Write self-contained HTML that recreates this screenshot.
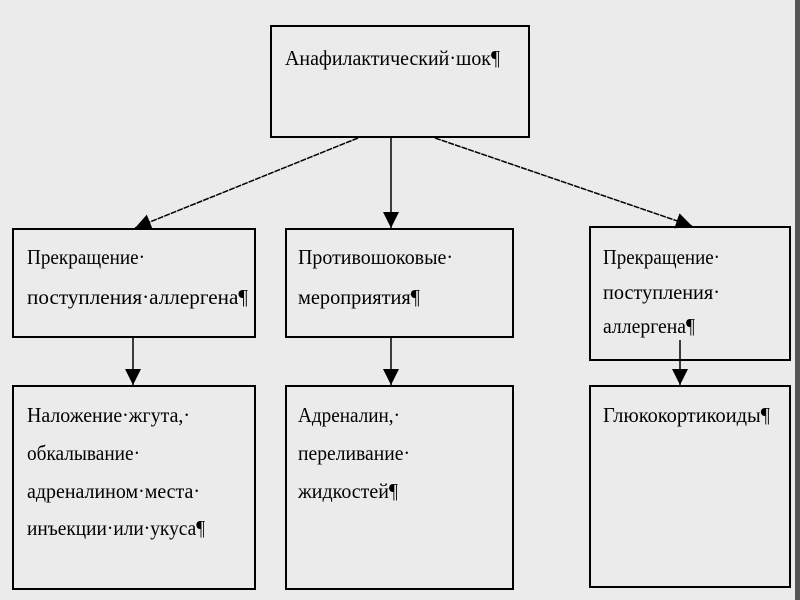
<!DOCTYPE html>
<html><head><meta charset="utf-8"><style>
html,body{margin:0;padding:0;background:#ebebeb;}
svg{display:block;}
text{font-family:"Liberation Serif","DejaVu Serif",serif;font-size:21px;fill:#000;}
</style></head><body>
<svg width="800" height="600" viewBox="0 0 800 600" xmlns="http://www.w3.org/2000/svg">
<rect width="800" height="600" fill="#ebebeb"/>
<rect x="795" y="0" width="5" height="600" fill="#555"/>
<defs>
<marker id="b" markerWidth="16" markerHeight="16" refX="16" refY="8" orient="auto" markerUnits="userSpaceOnUse" viewBox="0 0 16 16"><path d="M0,0 L16,8 L0,16 z" fill="#000"/></marker></defs>
<g fill="none" stroke="#000" stroke-width="2">
<rect x="271" y="26" width="258" height="111"/>
<rect x="13" y="229" width="242" height="108"/>
<rect x="286" y="229" width="227" height="108"/>
<rect x="590" y="227" width="200" height="133"/>
<rect x="13" y="386" width="242" height="203"/>
<rect x="286" y="386" width="227" height="203"/>
<rect x="590" y="386" width="200" height="201"/>
</g>
<g stroke="#000" stroke-width="1.5" fill="none">
<line x1="358" y1="138" x2="135" y2="228" stroke-dasharray="6,1" marker-end="url(#b)"/>
<line x1="391" y1="138" x2="391" y2="228" marker-end="url(#b)"/>
<line x1="435" y1="138" x2="692" y2="226" stroke-dasharray="6,1" marker-end="url(#b)"/>
<line x1="133" y1="338" x2="133" y2="385" marker-end="url(#b)"/>
<line x1="391" y1="338" x2="391" y2="385" marker-end="url(#b)"/>
<line x1="680" y1="340" x2="680" y2="385" marker-end="url(#b)"/>
</g>
<text x="285" y="65" textLength="215" lengthAdjust="spacingAndGlyphs">Анафилактический·шок¶</text>
<text x="27" y="264" textLength="118" lengthAdjust="spacingAndGlyphs">Прекращение·</text>
<text x="27" y="304" textLength="221" lengthAdjust="spacingAndGlyphs">поступления·аллергена¶</text>
<text x="298" y="264" textLength="155" lengthAdjust="spacingAndGlyphs">Противошоковые·</text>
<text x="298" y="304" textLength="122" lengthAdjust="spacingAndGlyphs">мероприятия¶</text>
<text x="603" y="264" textLength="117" lengthAdjust="spacingAndGlyphs">Прекращение·</text>
<text x="603" y="299" textLength="117" lengthAdjust="spacingAndGlyphs">поступления·</text>
<text x="603" y="333" textLength="92" lengthAdjust="spacingAndGlyphs">аллергена¶</text>
<text x="27" y="422" textLength="163" lengthAdjust="spacingAndGlyphs">Наложение·жгута,·</text>
<text x="27" y="460" textLength="113" lengthAdjust="spacingAndGlyphs">обкалывание·</text>
<text x="27" y="498" textLength="173" lengthAdjust="spacingAndGlyphs">адреналином·места·</text>
<text x="27" y="535" textLength="178" lengthAdjust="spacingAndGlyphs">инъекции·или·укуса¶</text>
<text x="298" y="422" textLength="102" lengthAdjust="spacingAndGlyphs">Адреналин,·</text>
<text x="298" y="460" textLength="112" lengthAdjust="spacingAndGlyphs">переливание·</text>
<text x="298" y="498" textLength="100" lengthAdjust="spacingAndGlyphs">жидкостей¶</text>
<text x="603" y="422" textLength="167" lengthAdjust="spacingAndGlyphs">Глюкокортикоиды¶</text>
</svg>
</body></html>
